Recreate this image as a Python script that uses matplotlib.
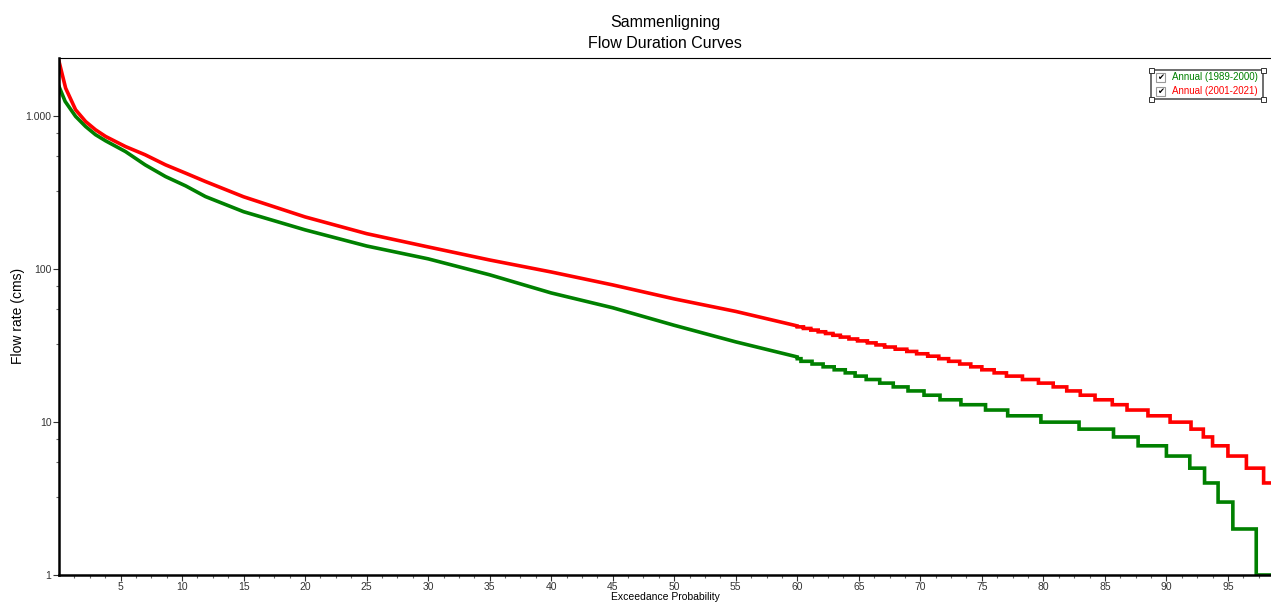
import matplotlib
matplotlib.use('Agg')
import matplotlib.pyplot as plt
from matplotlib.patches import Rectangle
from matplotlib.ticker import FixedLocator, NullFormatter

plt.rcParams['font.family'] = ['Liberation Sans', 'DejaVu Sans']

# smooth upper part of each curve: exceedance (%) and flow (cms)
green_top_p = [0, 0.5, 1.35, 2.16, 2.97, 3.79, 5.4, 7.0, 8.66, 10.3, 11.9,
               15, 20, 25, 30, 35, 40, 45, 50, 55, 60]
green_top_q = [1570, 1253, 1000, 859, 759, 692, 589, 482, 404, 351, 299,
               238, 181, 142, 117, 92, 70, 56, 43, 33.5, 26.7]
red_top_p = [0, 0.54, 1.35, 2.16, 2.97, 3.79, 5.4, 7.0, 8.66, 10.3, 11.9,
             15, 20, 25, 30, 35, 40, 45, 50, 55, 60]
red_top_q = [2290, 1530, 1105, 926, 817, 739, 635, 561, 482, 425, 375,
             298, 220, 171, 140, 115, 96, 79, 64, 53, 42.6]

# stepped lower part: integer flow levels and the exceedance where each level ends
green_levels = list(range(26, 0, -1))
green_ends = [60.3, 61.2, 62.1, 63.0, 63.9, 64.7, 65.6, 66.7, 67.8, 69.0,
              70.3, 71.6, 73.3, 75.3, 77.1, 79.8, 82.9, 85.7, 87.7, 90.0,
              91.9, 93.1, 94.2, 95.4, 97.3, 98.5]
red_levels = list(range(42, 3, -1))
red_ends = [60.5, 61.1, 61.7, 62.3, 62.9, 63.5, 64.2, 64.9, 65.7, 66.4,
            67.1, 67.96, 68.9, 69.7, 70.6, 71.5, 72.3, 73.2, 74.1, 75.0,
            76.0, 77.0, 78.3, 79.6, 80.8, 81.9, 83.0, 84.2, 85.6, 86.8,
            88.5, 90.3, 92.0, 93.0, 93.75, 95.0, 96.5, 97.9, 98.5]

labels = ['Annual (1989-2000)', 'Annual (2001-2021)']
colors = ['#008000', '#ff0000']

W, H = 1271, 603
fig = plt.figure(figsize=(W / 100, H / 100), dpi=100)
ax = fig.add_axes([59 / W, 1 - 575 / H, 1 - 59 / W, (575 - 58) / H])


def build_curve(top_p, top_q, levels, ends):
    xs = list(top_p)
    ys = list(top_q)
    start = top_p[-1]
    for lev, end in zip(levels, ends):
        xs += [start, end]
        ys += [lev, lev]
        start = end
    return xs, ys


for tp, tq, lv, en, c in [(green_top_p, green_top_q, green_levels, green_ends, colors[0]),
                          (red_top_p, red_top_q, red_levels, red_ends, colors[1])]:
    xs, ys = build_curve(tp, tq, lv, en)
    ax.plot(xs, ys, color=c, lw=2.6, solid_joinstyle='miter')

ax.set_yscale('log')
ax.set_ylim(1, 2410)
ax.set_xlim(0, 98.5)

ax.set_yticks([1, 10, 100, 1000])
ax.set_yticklabels(['1', '10', '100', '1.000'])
ax.yaxis.set_minor_locator(FixedLocator([d * m for d in [1, 10, 100, 1000]
                                         for m in [3.25, 5.5, 7.75]]))
ax.yaxis.set_minor_formatter(NullFormatter())

ax.set_xticks(range(5, 100, 5))
ax.xaxis.set_minor_locator(FixedLocator([i * 1.25 for i in range(1, 79)]))

ax.tick_params(which='major', length=4, width=0.8, labelsize=7.5, colors='#333333')
ax.tick_params(axis='x', which='major', pad=1)
ax.tick_params(axis='y', which='major', pad=1.5)
ax.tick_params(which='minor', length=2.5, width=0.8, colors='#666666')

ax.spines['right'].set_visible(False)
ax.spines['top'].set_linewidth(0.8)
ax.spines['left'].set_linewidth(1.8)
ax.spines['bottom'].set_linewidth(1.8)

ax.set_xlabel('Exceedance Probability', fontsize=7.5, labelpad=0)
fig.text(18 / W, 1 - 316 / H, 'Flow rate (cms)', rotation=90, fontsize=10,
         ha='center', va='center')

fig.text(0.5 * (59 + W) / W, 1 - 22 / H, 'Sammenligning',
         ha='center', va='center', fontsize=11.5)
fig.text(0.5 * (59 + W) / W, 1 - 43 / H, 'Flow Duration Curves',
         ha='center', va='center', fontsize=11.5)

# legend box with check boxes
bx0, by0, bx1, by1 = 1151, 70, 1263, 99
fig.add_artist(Rectangle((bx0 / W, 1 - by1 / H), (bx1 - bx0) / W, (by1 - by0) / H,
                         transform=fig.transFigure, fill=False, edgecolor='#555555', lw=1.2))
for cx, cy in [(bx0, by0), (bx1, by0), (bx0, by1), (bx1, by1)]:
    fig.add_artist(Rectangle(((cx - 2.5) / W, 1 - (cy + 2.5) / H), 5 / W, 5 / H,
                             transform=fig.transFigure, facecolor='white',
                             edgecolor='#333333', lw=0.7, zorder=5))
for i, (lab, c) in enumerate(zip(labels, colors)):
    yc = 77.5 + i * 14
    fig.add_artist(Rectangle((1156 / W, 1 - (yc + 4.5) / H), 9 / W, 9 / H,
                             transform=fig.transFigure, facecolor='white',
                             edgecolor='#999999', lw=0.8))
    fig.text(1160.5 / W, 1 - yc / H, '\u2714', ha='center', va='center',
             fontsize=6, color='black', family=['DejaVu Sans'])
    fig.text(1172 / W, 1 - yc / H, lab, ha='left', va='center', fontsize=7, color=c)

plt.savefig('out.png', dpi=100)
